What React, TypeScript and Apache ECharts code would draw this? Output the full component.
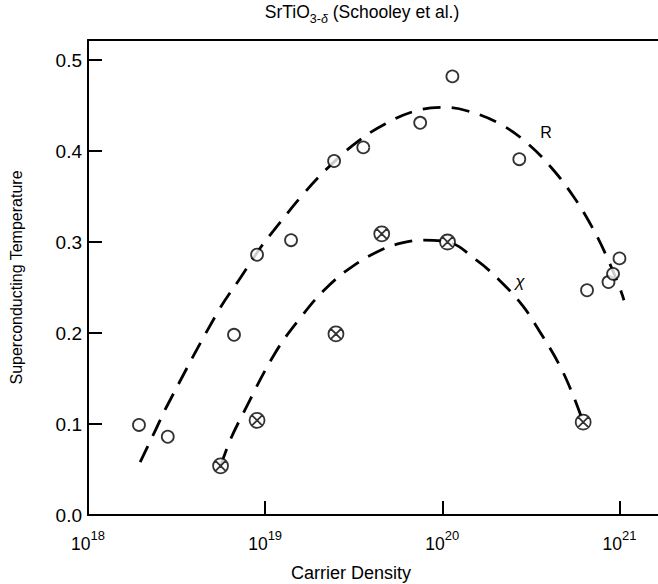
import React, { useEffect, useRef } from "react";
import * as echarts from "echarts";

// Open circles (R)
const rDensity = [1.94e18, 2.82e18, 6.67e18, 9.0e18, 1.4e19, 2.45e19, 3.58e19, 7.5e19, 1.14e20, 2.72e20, 6.56e20, 8.67e20, 9.2e20, 1.0e21];
const rTc = [0.099, 0.086, 0.198, 0.286, 0.302, 0.389, 0.404, 0.431, 0.482, 0.391, 0.247, 0.256, 0.265, 0.282];

// Crossed circles (X)
const xDensity = [5.6e18, 9.0e18, 2.51e19, 4.55e19, 1.07e20, 6.24e20];
const xTc = [0.054, 0.104, 0.199, 0.309, 0.3, 0.102];

// Dashed guide curves
const curveRDensity = [1.97e18, 2.36e18, 2.83e18, 5.4e18, 7.21e18, 9.51e18, 1.11e19, 1.63e19, 2.3e19, 3.31e19, 4.78e19, 7.03e19, 9.91e19, 1.39e20, 2.15e20, 3.04e20, 4.2e20, 5.5e20, 6.93e20, 8.47e20, 1.02e21, 1.06e21];
const curveRTc = [0.058, 0.09, 0.122, 0.223, 0.26, 0.295, 0.312, 0.352, 0.383, 0.41, 0.43, 0.444, 0.448, 0.444, 0.429, 0.408, 0.38, 0.35, 0.318, 0.284, 0.246, 0.236];
const curveXDensity = [5.61e18, 6.34e18, 7.53e18, 1.13e19, 1.6e19, 2.2e19, 3.1e19, 4.48e19, 5.92e19, 7.66e19, 1.07e20, 1.56e20, 2.1e20, 2.84e20, 3.64e20, 4.55e20, 5.41e20, 6.24e20];
const curveXTc = [0.054, 0.082, 0.112, 0.177, 0.218, 0.249, 0.273, 0.291, 0.299, 0.302, 0.3, 0.28, 0.258, 0.23, 0.198, 0.166, 0.134, 0.102];

const xMin = 1e18;
const xMax = 1.65e21;
const yMin = 0;
const yMax = 0.522;
const yStep = 0.1;

const FONT = "'Liberation Sans', Arial, Helvetica, sans-serif";

const zip = (a: number[], b: number[]) => a.map((v, i) => [v, b[i]]);

const crossedCircle =
  "path://M0,10A10,10 0 1,1 20,10A10,10 0 1,1 0,10Z M2.93,2.93L17.07,17.07 M17.07,2.93L2.93,17.07";

export default function App() {
  const ref = useRef<HTMLDivElement>(null);
  useEffect(() => {
    if (!ref.current) return;
    const chart = echarts.init(ref.current, null, { renderer: "svg" });
    const dash = { color: "#000", width: 2.8, type: [18, 11] as number[] };
    chart.setOption({
      animation: false,
      backgroundColor: "#fff",
      textStyle: { fontFamily: FONT },
      grid: { left: 83, right: 0, top: 40, bottom: 69 },
      xAxis: [
        {
          type: "log",
          logBase: 10,
          min: xMin,
          max: xMax,
          axisLine: { show: true, lineStyle: { color: "#000", width: 2 } },
          axisTick: { show: true, inside: true, length: 14, lineStyle: { color: "#000", width: 2 } },
          minorTick: { show: false },
          splitLine: { show: false },
          axisLabel: {
            showMaxLabel: false,
            margin: 14,
            color: "#000",
            formatter: (v: number) => {
              const e = Math.log10(v);
              const r = Math.round(e);
              if (Math.abs(e - r) > 0.01) return "";
              return "{b|10}{s|" + r + "}";
            },
            rich: {
              b: { fontSize: 17.5, lineHeight: 24, verticalAlign: "bottom", fontFamily: FONT, color: "#000" },
              s: { fontSize: 13, lineHeight: 14, verticalAlign: "top", fontFamily: FONT, color: "#000" },
            },
          },
        },
        {
          type: "log",
          position: "top",
          min: xMin,
          max: xMax,
          axisLine: { show: true, lineStyle: { color: "#000", width: 2 } },
          axisTick: { show: false },
          axisLabel: { show: false },
          splitLine: { show: false },
        },
      ],
      yAxis: {
        type: "value",
        min: yMin,
        max: yMax,
        interval: yStep,
        name: "Superconducting Temperature",
        nameLocation: "middle",
        nameGap: 64,
        nameTextStyle: { fontSize: 16, color: "#000", fontFamily: FONT },
        axisLine: { show: true, lineStyle: { color: "#000", width: 2 } },
        axisTick: { show: true, inside: true, length: 14, lineStyle: { color: "#000", width: 2 } },
        splitLine: { show: false },
        axisLabel: {
          showMaxLabel: false,
          margin: 6,
          fontSize: 19,
          color: "#000",
          formatter: (v: number) => {
            const k = Math.round(v / yStep);
            if (Math.abs(v - k * yStep) > 1e-6) return "";
            return (k * yStep).toFixed(1);
          },
        },
      },
      series: [
        {
          type: "line",
          data: zip(curveRDensity, curveRTc),
          smooth: 0.4,
          showSymbol: false,
          lineStyle: dash,
          z: 1,
        },
        {
          type: "line",
          data: zip(curveXDensity, curveXTc),
          smooth: 0.4,
          showSymbol: false,
          lineStyle: dash,
          z: 1,
        },
        {
          type: "scatter",
          data: zip(rDensity, rTc),
          symbol: "circle",
          symbolSize: 12,
          itemStyle: { color: "#fff", borderColor: "#000", borderWidth: 1.8 },
          z: 3,
        },
        {
          type: "scatter",
          data: zip(xDensity, xTc),
          symbol: crossedCircle,
          symbolSize: 15,
          itemStyle: { color: "#fff", borderColor: "#000", borderWidth: 1.8 },
          z: 3,
        },
      ],
      graphic: [
        {
          type: "text",
          x: 362,
          y: 14,
          style: {
            text: "{a|SrTiO}{s|3-}{d|δ}{a| (Schooley et al.)}",
            align: "center",
            verticalAlign: "middle",
            rich: {
              a: { fontSize: 17.5, lineHeight: 22, verticalAlign: "top", fontFamily: FONT, fill: "#000" },
              s: { fontSize: 12.5, lineHeight: 12, verticalAlign: "bottom", fontFamily: FONT, fill: "#000" },
              d: { fontSize: 12.5, lineHeight: 12, verticalAlign: "bottom", fontStyle: "italic", fontFamily: FONT, fill: "#000" },
            },
          },
        },
        {
          type: "text",
          x: 351,
          y: 573,
          style: { text: "Carrier Density", fontSize: 18, fontFamily: FONT, fill: "#000", align: "center", verticalAlign: "middle" },
        },
        {
          type: "text",
          x: 546,
          y: 132,
          style: { text: "R", fontSize: 16, fontFamily: FONT, fill: "#000", align: "center", verticalAlign: "middle" },
        },
        {
          type: "text",
          x: 520,
          y: 281,
          style: { text: "χ", fontSize: 17, fontStyle: "italic", fontFamily: FONT, fill: "#000", align: "center", verticalAlign: "middle" },
        },
      ],
    });
    return () => chart.dispose();
  }, []);
  return (
    <div
      ref={ref}
      style={{ position: "fixed", left: 0, top: 0, width: 658, height: 584, background: "#fff" }}
    />
  );
}
